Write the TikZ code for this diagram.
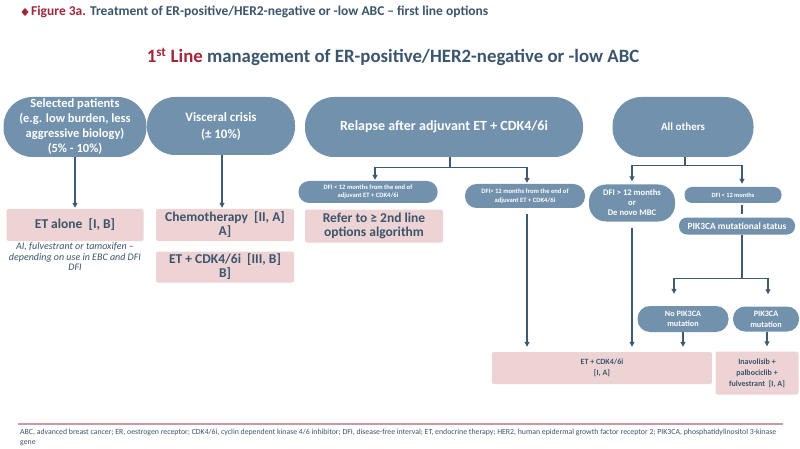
\documentclass[tikz,border=0pt]{standalone}
\usepackage{fontspec}
\setmainfont{Carlito}
\usetikzlibrary{arrows.meta,calc}
\definecolor{nodeblue}{HTML}{7291AC}
\definecolor{pinkbox}{HTML}{EDD3D3}
\definecolor{slate}{HTML}{3A556C}
\definecolor{darkred}{HTML}{A2263A}
\definecolor{arrowc}{HTML}{3F5B71}
\definecolor{footline}{HTML}{C99AA2}
\tikzset{
 pill/.style={fill=nodeblue, text=white, align=center, inner sep=0pt},
 pinkb/.style={fill=pinkbox, text=slate, align=center, rounded corners=2pt, inner sep=0pt},
 conn/.style={draw=arrowc, line width=1.2pt},
 arr/.style={conn, -{Triangle[length=5pt,width=5pt]}, shorten >=1pt},
}
\begin{document}
\begin{tikzpicture}[x=1pt,y=-1pt]
\useasboundingbox (0,0) rectangle (800,449);
\fill[white] (0,0) rectangle (800,449);

% title
\fill[darkred] (25,8) -- (28.5,12) -- (25,16) -- (21.5,12) -- cycle;
\node[anchor=west, inner sep=0pt, text=slate, font=\bfseries\fontsize{13.5}{15}\selectfont] (title) at (31,12)
 {\textcolor{darkred}{Figure 3a.} Treatment of ER-positive/HER2-negative or -low ABC -- first line options};
\node[inner sep=0pt, text=slate, font=\bfseries\fontsize{18.8}{22}\selectfont] (heading) at (393,57)
 {\textcolor{darkred}{1\textsuperscript{st} Line} management of ER-positive/HER2-negative or -low ABC};

% top pills
\node[pill, minimum width=143pt, minimum height=60pt, rounded corners=29pt, font=\bfseries\fontsize{12.5}{15}\selectfont] (sel) at (75,127)
 {Selected patients\\(e.g. low burden, less\\aggressive biology)\\(5\% - 10\%)};
\node[pill, minimum width=148pt, minimum height=58pt, rounded corners=28pt, font=\bfseries\fontsize{12.9}{17}\selectfont] (visc) at (221,126)
 {Visceral crisis\\(± 10\%)};
\node[pill, minimum width=278pt, minimum height=60pt, rounded corners=29pt, font=\bfseries\fontsize{14}{16}\selectfont] (relapse) at (444,127)
 {Relapse after adjuvant ET + CDK4/6i};
\node[pill, minimum width=141pt, minimum height=60pt, rounded corners=29pt, font=\bfseries\fontsize{11}{13}\selectfont] (others) at (683,127)
 {All others};

% second level pills
\node[pill, minimum width=139pt, minimum height=22pt, rounded corners=10.5pt, font=\bfseries\fontsize{6.6}{8}\selectfont] (dfiL) at (368,192)
 {DFI < 12 months from the end of\\adjuvant ET + CDK4/6i};
\node[pill, minimum width=120pt, minimum height=24pt, rounded corners=11.5pt, font=\bfseries\fontsize{6.6}{8.5}\selectfont] (dfiR) at (525,196)
 {DFI> 12 months from the end of\\adjuvant ET + CDK4/6i};
\node[pill, minimum width=86pt, minimum height=37pt, rounded corners=17pt, font=\bfseries\fontsize{8.6}{10}\selectfont] (dfiN) at (632,203)
 {DFI > 12 months\\or\\De novo MBC};
\node[pill, minimum width=97pt, minimum height=16pt, rounded corners=7.5pt, font=\bfseries\fontsize{6.4}{7}\selectfont] (dfiS) at (733,195)
 {DFI < 12 months};
\node[pill, minimum width=116pt, minimum height=17pt, rounded corners=8pt, font=\bfseries\fontsize{9.4}{10}\selectfont] (pik) at (737,226)
 {PIK3CA mutational status};
\node[pill, minimum width=91pt, minimum height=26pt, rounded corners=12.5pt, font=\bfseries\fontsize{8.2}{10}\selectfont] (nopik) at (683,319)
 {No PIK3CA\\mutation};
\node[pill, minimum width=66pt, minimum height=25pt, rounded corners=12pt, font=\bfseries\fontsize{8.2}{11}\selectfont] (pikm) at (766,319)
 {PIK3CA\\mutation};

% pink boxes
\node[pinkb, minimum width=137pt, minimum height=32pt, font=\bfseries\fontsize{13.5}{14}\selectfont] (etalone) at (75,225)
 {ET alone\ \ [I, B]};
\node[pinkb, minimum width=138pt, minimum height=32pt, font=\bfseries\fontsize{13.5}{14}\selectfont] (chemo) at (225,225)
 {Chemotherapy\ \ [II, A]\\A]};
\node[pinkb, minimum width=138pt, minimum height=31pt, font=\bfseries\fontsize{13.5}{14}\selectfont] (etcdk) at (225,267)
 {ET + CDK4/6i\ \ [III, B]\\B]};
\node[pinkb, minimum width=138pt, minimum height=33pt, font=\bfseries\fontsize{13.5}{14}\selectfont] (refer) at (374,226)
 {Refer to ≥ 2nd line\\options algorithm};
\node[pinkb, minimum width=220pt, minimum height=32pt, font=\bfseries\fontsize{8}{11}\selectfont] (etcdkA) at (602,368)
 {ET + CDK4/6i\\{[I, A]}};
\node[pinkb, minimum width=83pt, minimum height=43pt, font=\bfseries\fontsize{8}{11}\selectfont] (inav) at (757,373)
 {Inavolisib +\\palbociclib +\\fulvestrant\ \ [I, A]};

\node[inner sep=0pt, align=center, text=slate, font=\itshape\fontsize{10}{10.5}\selectfont] (note) at (75,257)
 {AI, fulvestrant or tamoxifen --\\depending on use in EBC and DFI\\DFI};

% connectors
\draw[arr] (sel.south) -- (etalone.north);
\draw[arr] ([xshift=1pt]visc.south) -- ([xshift=1pt]visc.south |- chemo.north);

\draw[conn] ([xshift=6pt]relapse.south) -- ++(0,10) coordinate (rj);
\draw[arr] (rj) -| ([xshift=7pt]dfiL.north);
\draw[arr] (rj) -| ([xshift=2pt]dfiR.north);

\draw[conn] ([xshift=2pt]others.south) -- ++(0,8) coordinate (oj);
\draw[arr, shorten >=3pt] (oj) -| (dfiN.north);
\draw[arr, shorten >=3pt] (oj) -| ([xshift=9pt]dfiS.north);

\draw[conn, shorten <=2pt, shorten >=3pt] ([xshift=9pt]dfiS.south) -- ([xshift=5pt]pik.north);
\draw[conn] ([xshift=5pt]pik.south) -- ++(0,44) coordinate (pj);
\draw[arr, shorten >=12pt] (pj) -| ([xshift=-9pt]nopik.north);
\draw[arr, shorten >=12pt] (pj) -| ([xshift=2pt]pikm.north);

\draw[arr, shorten <=6pt, shorten >=5pt] ([xshift=2pt]dfiR.south) -- ([xshift=2pt]dfiR.south |- etcdkA.north);
\draw[arr, shorten <=6pt, shorten >=5pt] (dfiN.south) -- (dfiN.south |- etcdkA.north);
\draw[arr, shorten >=5pt] (nopik.south) -- (nopik.south |- etcdkA.north);
\draw[arr, shorten >=5pt] ([xshift=1pt]pikm.south) -- ([xshift=1pt]pikm.south |- inav.north);

% footer
\draw[footline, line width=1.2pt] (18,424) coordinate (fl) -- (783,424) coordinate (fr);
\node[anchor=north west, inner sep=0pt, align=left, text=slate, font=\fontsize{7.8}{10}\selectfont] (foot) at (20,428.5)
 {ABC, advanced breast cancer; ER, oestrogen receptor; CDK4/6i, cyclin dependent kinase 4/6 inhibitor; DFI, disease-free interval; ET, endocrine therapy; HER2, human epidermal growth factor receptor 2; PIK3CA, phosphatidylinositol 3-kinase\\gene};
\end{tikzpicture}
\end{document}
